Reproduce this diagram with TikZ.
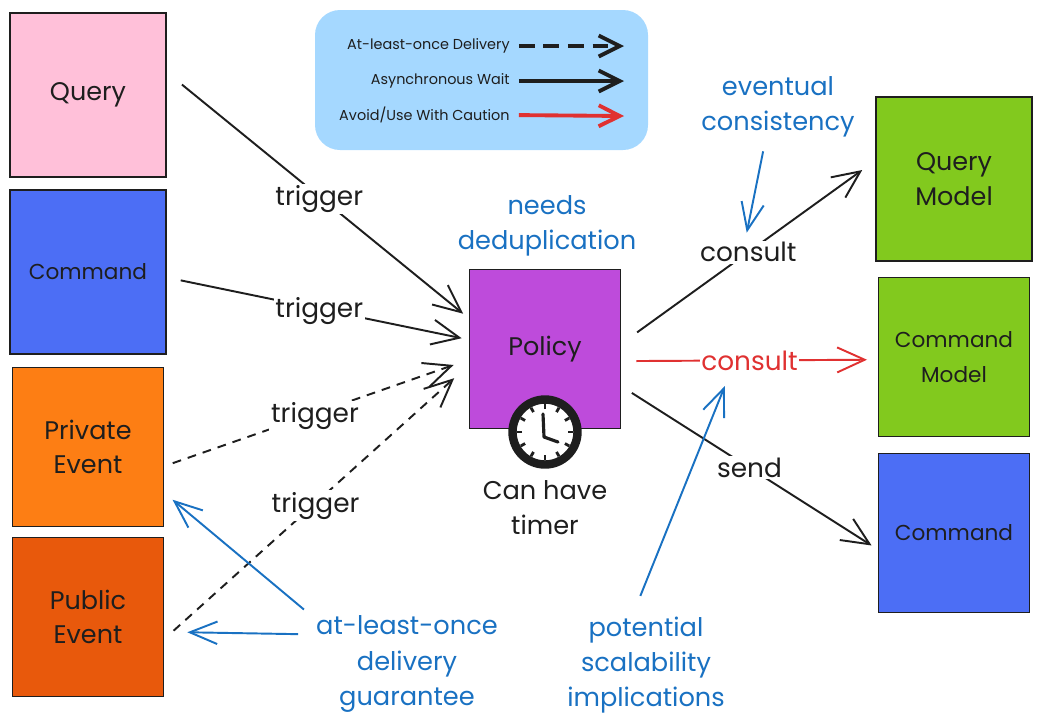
\documentclass[tikz,border=0pt]{standalone}
\usepackage{fontspec}
\setmainfont{Poppins}
\usepackage{tikz}
\usetikzlibrary{arrows.meta}
\usepackage{xcolor}
\definecolor{ink}{HTML}{1E1E1E}
\definecolor{notes}{HTML}{1971C2}
\definecolor{caution}{HTML}{E03131}
\definecolor{legendblue}{HTML}{A5D8FF}
\definecolor{querypink}{HTML}{FFC0D9}
\definecolor{commandblue}{HTML}{4C6EF5}
\definecolor{privateorange}{HTML}{FD7E14}
\definecolor{publicorange}{HTML}{E8590C}
\definecolor{policypurple}{HTML}{BE4BDB}
\definecolor{modelgreen}{HTML}{82C91E}
\tikzset{
    card/.style={draw=ink, line width=1.1pt, text=ink, minimum width=3.02cm, minimum height=3.18cm, align=center, font=\fontsize{14.5}{19.5}\selectfont},
    bigcard/.style={card, minimum width=3.12cm, minimum height=3.28cm},
    widecard/.style={font=\fontsize{12.3}{19.5}\selectfont},
    note/.style={text=notes, align=center, font=\fontsize{14.6}{20}\selectfont},
    tag/.style={fill=white, text=ink, inner sep=1pt, font=\fontsize{15}{18}\selectfont},
    trig/.style={tag, yshift=-1.5pt},
    keytext/.style={anchor=east, text=ink, inner sep=0pt, font=\fontsize{8.2}{10}\selectfont},
    flow/.style={draw=ink, line width=1.1pt, -{Straight Barb[length=0.55cm,width=0.5cm]}},
    noteflow/.style={draw=notes, line width=1.1pt, -{Straight Barb[length=0.55cm,width=0.45cm]}},
    keyflow/.style={line width=2.2pt, -{Straight Barb[length=0.42cm,width=0.42cm]}}
}
\begin{document}
\begin{tikzpicture}[x=0.02cm, y=-0.02cm]
    \useasboundingbox (0,0) rectangle (1041,725);
    \fill[legendblue, rounded corners=0.5cm] (315,10) rectangle (648,150);
    \node[keytext] (keyonce) at (510,46) {At-least-once Delivery};
    \node[keytext] (keywait) at (510,81) {Asynchronous Wait};
    \node[keytext] (keyavoid) at (510,115) {Avoid/Use With Caution};
    \coordinate (keyonceend) at (624,46);
    \coordinate (keywaitend) at (624,81);
    \coordinate (keyavoidend) at (624,116);
    \draw[keyflow, ink, dash pattern=on 9pt off 5pt, shorten <=5pt] (keyonce.east) -- (keyonceend);
    \draw[keyflow, ink, shorten <=5pt] (keywait.east) -- (keywaitend);
    \draw[keyflow, caution, shorten <=5pt] (keyavoid.east) -- (keyavoidend);

    \node[bigcard, fill=querypink] (query) at (88,95) {Query};
    \node[bigcard, widecard, fill=commandblue] (command) at (88,272) {Command};
    \node[card, fill=privateorange] (private) at (88,447) {Private\\Event};
    \node[card, fill=publicorange] (public) at (88,617) {Public\\Event};
    \node[card, fill=policypurple] (policy) at (545,349) {Policy};
    \node[bigcard, fill=modelgreen] (querymodel) at (954,179) {Query\\Model};
    \node[card, widecard, fill=modelgreen] (commandmodel) at (954,357) {Command\\Model};
    \node[card, widecard, fill=commandblue] (commandout) at (954,533) {Command};

    \draw[flow, shorten <=11pt, shorten >=4pt] (query.16) -- node[trig, pos=.505] {trigger} (policy.158);
    \draw[flow, shorten <=8pt, shorten >=4pt] (command.356) -- node[trig, pos=.505] {trigger} (policy.173);
    \draw[flow, dash pattern=on 5pt off 4pt, shorten <=5pt, shorten >=9pt] (private.346) -- node[trig, pos=.495] {trigger} (policy.188);
    \draw[flow, dash pattern=on 5pt off 4pt, shorten <=7pt, shorten >=11pt] (public.344) -- node[trig, pos=.497] {trigger} (policy.192);
    \draw[flow, shorten <=11pt, shorten >=9pt] (policy.4) -- node[tag, pos=.5] (consultquery) {consult} (querymodel.167);
    \draw[flow, draw=caution, shorten <=8.5pt, shorten >=6pt] (policy.351) -- node[tag, pos=.5, text=caution] (consultcommand) {consult} (commandmodel.182);
    \draw[flow, shorten <=7pt, shorten >=4pt] (policy.334) -- node[tag, pos=.5] (send) {send} (commandout.192);

    \node[circle, draw=ink, line width=4.8pt, fill=white, minimum size=1.3cm, inner sep=0pt] (clock) at (545,432) {};
    \foreach \a in {0,30,...,330}
        \draw[ink, line width=1.6pt] ([shift={(\a:23)}]clock.center) -- ([shift={(\a:28)}]clock.center);
    \draw[ink, line width=1.8pt, line cap=round, line join=round] (543,414) -- (544,437) -- (558,442);
    \node[note, text=ink] (timer) at (545,508) {Can have\\timer};

    \node[note] (dedup) at (547,226) {needs\\deduplication};
    \node[note] (eventual) at (778,107) {eventual\\consistency};
    \node[note] (atleast) at (407,664) {at-least-once\\delivery\\guarantee};
    \node[note] (scalability) at (646,665) {potential\\scalability\\implications};

    \draw[noteflow, shorten <=4.5pt, shorten >=4pt] (eventual.250) -- (consultquery.103);
    \draw[noteflow, shorten <=4.5pt, shorten >=6pt] (atleast.153) -- (private.329);
    \draw[noteflow, shorten <=6.8pt, shorten >=13pt] (atleast.163.5) -- (public.349);
    \draw[noteflow, shorten <=9pt, shorten >=8pt] (scalability.102) -- (consultcommand.213);
\end{tikzpicture}
\end{document}
